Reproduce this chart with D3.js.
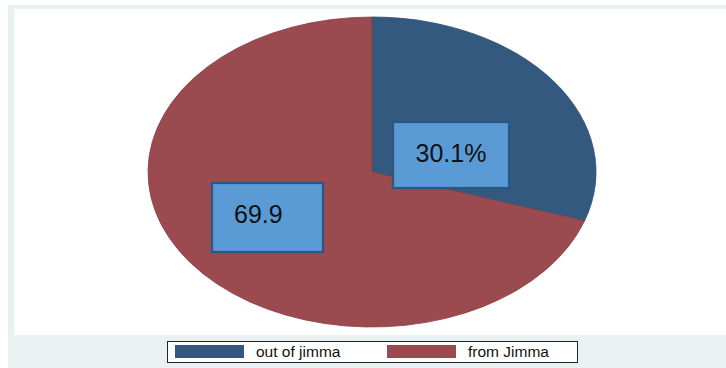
<!DOCTYPE html>
<html>
<head>
<meta charset="utf-8">
<script src="https://cdn.jsdelivr.net/npm/d3@7"></script>
<style>
  html, body { margin: 0; padding: 0; background: #ffffff; }
  svg { display: block; }
</style>
</head>
<body>
<div id="chart"></div>
<script>
// data
const categories = ["out of jimma", "from Jimma"];
const shares = [30.1, 69.9];
const sliceLabels = ["30.1%", "69.9"];
const sliceColors = ["#335a7e", "#9b4a50"];

const svgWidth = 726;
const svgHeight = 368;

const svg = d3.select("#chart").append("svg")
    .attr("width", svgWidth)
    .attr("height", svgHeight);

// graph region (light frame) and plot region (white)
svg.append("rect")
    .attr("x", 8).attr("y", 5)
    .attr("width", svgWidth - 8).attr("height", svgHeight - 5)
    .attr("fill", "#eaf1f2");
svg.append("rect")
    .attr("x", 14).attr("y", 9)
    .attr("width", svgWidth - 14).attr("height", 326)
    .attr("fill", "#ffffff");

// pie drawn as a circle, stretched into an ellipse
const cx = 372, cy = 172;
const rx = 224, ry = 155;

const pie = d3.pie().sort(null).value(d => d);
const arc = d3.arc().innerRadius(0).outerRadius(ry);
const arcsData = pie(shares);

const g = svg.append("g")
    .attr("transform", `translate(${cx},${cy}) scale(${rx / ry},1)`);

g.selectAll("path")
    .data(arcsData)
    .enter().append("path")
    .attr("d", arc)
    .attr("fill", (d, i) => sliceColors[i])
    .attr("stroke", (d, i) => d3.color(sliceColors[i]).darker(0.4))
    .attr("stroke-width", 0.8)
    .attr("vector-effect", "non-scaling-stroke");

// label boxes (placement offsets from pie centre)
const labelBoxes = [
    { dx: 21, dy: -50, w: 116, h: 66, anchor: "middle", tx: 58, ty: 40 },
    { dx: -160, dy: 11, w: 111, h: 69, anchor: "start", tx: 22, ty: 40 }
];

const lab = svg.selectAll("g.lab")
    .data(arcsData)
    .enter().append("g")
    .attr("class", "lab")
    .attr("transform", (d, i) => `translate(${cx + labelBoxes[i].dx},${cy + labelBoxes[i].dy})`);

lab.append("rect")
    .attr("width", (d, i) => labelBoxes[i].w)
    .attr("height", (d, i) => labelBoxes[i].h)
    .attr("fill", "#5b9bd5")
    .attr("stroke", "#2c5784")
    .attr("stroke-width", 2.2);

lab.append("text")
    .attr("x", (d, i) => labelBoxes[i].tx)
    .attr("y", (d, i) => labelBoxes[i].ty)
    .attr("text-anchor", (d, i) => labelBoxes[i].anchor)
    .style("font-family", "'Liberation Sans', Arial, sans-serif")
    .style("font-size", "25px")
    .style("fill", "#111")
    .text((d, i) => sliceLabels[i]);

// legend
const legend = svg.append("g").attr("transform", "translate(167,341)");
legend.append("rect")
    .attr("x", 0.5).attr("y", 0.5)
    .attr("width", 410).attr("height", 21)
    .attr("fill", "#ffffff")
    .attr("stroke", "#222")
    .attr("stroke-width", 1);

const legendX = d3.scalePoint().domain(categories).range([8, 220]);

const items = legend.selectAll("g.item")
    .data(categories)
    .enter().append("g")
    .attr("class", "item")
    .attr("transform", d => `translate(${legendX(d)},0)`);

items.append("rect")
    .attr("x", 0).attr("y", 4)
    .attr("width", 69).attr("height", 13)
    .attr("fill", (d, i) => sliceColors[i]);

items.append("text")
    .attr("x", 81).attr("y", 16)
    .style("font-family", "'Liberation Sans', Arial, sans-serif")
    .style("font-size", "15.5px")
    .style("fill", "#111")
    .text(d => d);
</script>
</body>
</html>
